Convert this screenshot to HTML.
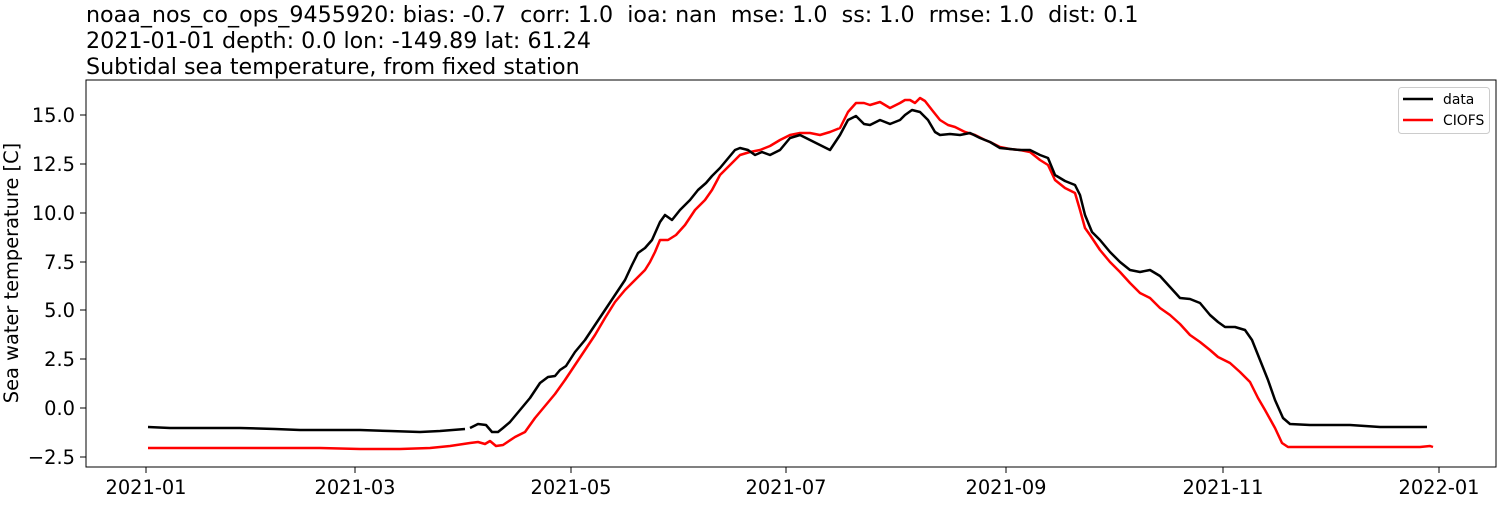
<!DOCTYPE html>
<html><head><style>body{margin:0;background:#fff}</style></head><body>
<svg width="1500" height="500" xmlns="http://www.w3.org/2000/svg" font-family="DejaVu Sans, Liberation Sans, sans-serif">
<rect width="1500" height="500" fill="#fff"/>
<text x="86" y="22" font-size="22.2" style="white-space:pre" xml:space="preserve">noaa_nos_co_ops_9455920: bias: -0.7  corr: 1.0  ioa: nan  mse: 1.0  ss: 1.0  rmse: 1.0  dist: 0.1</text>
<text x="86" y="48" font-size="22.2">2021-01-01 depth: 0.0 lon: -149.89 lat: 61.24</text>
<text x="86" y="74" font-size="22.2">Subtidal sea temperature, from fixed station</text>
<g font-size="19.4" text-anchor="end">
<text x="75" y="122">15.0</text><text x="75" y="171">12.5</text><text x="75" y="220">10.0</text>
<text x="75" y="269">7.5</text><text x="75" y="317">5.0</text><text x="75" y="366">2.5</text>
<text x="75" y="415">0.0</text><text x="75" y="464">−2.5</text>
</g>
<g stroke="#000" stroke-width="1">
<line x1="80" y1="115" x2="86" y2="115"/><line x1="80" y1="164" x2="86" y2="164"/><line x1="80" y1="213" x2="86" y2="213"/>
<line x1="80" y1="262" x2="86" y2="262"/><line x1="80" y1="310" x2="86" y2="310"/><line x1="80" y1="359" x2="86" y2="359"/>
<line x1="80" y1="408" x2="86" y2="408"/><line x1="80" y1="457" x2="86" y2="457"/>
<line x1="146" y1="467" x2="146" y2="473"/><line x1="355" y1="467" x2="355" y2="473"/><line x1="571" y1="467" x2="571" y2="473"/>
<line x1="786" y1="467" x2="786" y2="473"/><line x1="1006" y1="467" x2="1006" y2="473"/><line x1="1223" y1="467" x2="1223" y2="473"/>
<line x1="1439" y1="467" x2="1439" y2="473"/>
</g>
<g font-size="19.4" text-anchor="middle">
<text x="146" y="494">2021-01</text><text x="355" y="494">2021-03</text><text x="571" y="494">2021-05</text>
<text x="786" y="494">2021-07</text><text x="1006" y="494">2021-09</text><text x="1223" y="494">2021-11</text><text x="1439" y="494">2022-01</text>
</g>
<text transform="translate(18,273) rotate(-90)" font-size="19.4" text-anchor="middle">Sea water temperature [C]</text>
<g fill="none" stroke-width="2.5" stroke-linejoin="round">
<polyline stroke="#f00" points="148,448 250,448 320,448 360,449 400,449 430,448 450,446 470,443 478,442 485,444 490,441 496,446 503,445 515,437 525,432 535,418 545,406 555,394 565,380 575,365 585,350 595,335 605,318 615,302 625,290 635,280 645,270 650,262 655,252 660,240 668,240 676,235 685,225 695,210 705,200 712,190 720,175 730,165 740,155 750,152 760,150 770,146 780,140 790,135 800,133 810,133 820,135 830,132 840,128 848,112 856,103 864,103 870,105 880,102 890,108 900,103 905,100 910,100 915,103 920,98 925,101 932,110 940,120 948,125 955,127 965,132 975,135 985,140 990,142 1000,147 1010,149 1020,150 1030,152 1040,160 1048,165 1055,180 1065,188 1075,193 1080,210 1085,228 1090,235 1100,250 1110,262 1120,272 1130,283 1140,293 1150,298 1160,308 1170,315 1180,324 1190,335 1200,342 1210,350 1218,357 1230,363 1240,372 1250,382 1258,398 1265,410 1275,428 1282,443 1288,447 1340,447 1420,447 1430,446 1433,447"/>
<polyline stroke="#000" points="148,427 170,428 200,428 240,428 275,429 300,430 360,430 390,431 420,432 440,431 465,429"/>
<polyline stroke="#000" points="470,428 478,424 486,425 492,432 498,432 503,428 510,422 520,410 530,398 540,383 548,377 555,376 560,370 566,366 575,352 585,340 595,325 605,310 615,295 625,280 632,265 638,253 645,248 652,240 660,222 665,215 672,220 680,210 690,200 698,190 706,183 712,176 720,168 730,156 735,150 740,148 748,150 755,155 762,152 770,155 780,150 790,138 800,135 810,140 820,145 830,150 840,135 848,120 856,116 864,124 870,125 880,120 890,124 900,120 905,115 912,110 920,112 928,120 935,132 940,135 950,134 960,135 970,133 980,138 990,142 1000,148 1010,149 1020,150 1030,150 1040,155 1048,158 1055,175 1065,181 1075,185 1080,195 1085,215 1092,232 1100,240 1110,252 1120,262 1130,270 1140,272 1150,270 1160,276 1170,287 1180,298 1190,299 1200,303 1210,315 1218,322 1225,327 1235,327 1245,330 1252,340 1260,360 1268,380 1275,400 1283,418 1290,424 1310,425 1350,425 1380,427 1427,427"/>
</g>
<rect x="86" y="80" width="1410" height="387" fill="none" stroke="#000" stroke-width="1"/>
<rect x="1398.5" y="87.5" width="91" height="46" rx="3" fill="#fff" stroke="#ccc"/>
<line x1="1403" y1="99" x2="1433" y2="99" stroke="#000" stroke-width="2.5"/>
<line x1="1403" y1="120" x2="1433" y2="120" stroke="#f00" stroke-width="2.5"/>
<text x="1443" y="104" font-size="13.9">data</text>
<text x="1443" y="125" font-size="13.9">CIOFS</text>
</svg>
</body></html>
